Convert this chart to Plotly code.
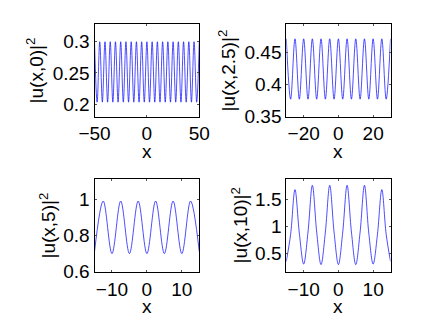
import plotly.graph_objects as go

# peaks and troughs; the curve is drawn through them as a spline
x_t0 = [-50, -47.5, -45, -42.5, -40, -37.5, -35, -32.5, -30, -27.5, -25, -22.5, -20, -17.5,
        -15, -12.5, -10, -7.5, -5, -2.5, 0, 2.5, 5, 7.5, 10, 12.5, 15, 17.5, 20, 22.5, 25,
        27.5, 30, 32.5, 35, 37.5, 40, 42.5, 45, 47.5, 50]
u_t0 = [0.300, 0.203, 0.300, 0.203, 0.300, 0.203, 0.300, 0.203, 0.300, 0.203, 0.300, 0.203,
        0.300, 0.203, 0.300, 0.203, 0.300, 0.203, 0.300, 0.203, 0.300, 0.203, 0.300, 0.203,
        0.300, 0.203, 0.300, 0.203, 0.300, 0.203, 0.300, 0.203, 0.300, 0.203, 0.300, 0.203,
        0.300, 0.203, 0.300, 0.203, 0.300]

x_t25 = [-30, -27.5, -25, -22.5, -20, -17.5, -15, -12.5, -10, -7.5, -5, -2.5, 0, 2.5, 5, 7.5,
         10, 12.5, 15, 17.5, 20, 22.5, 25, 27.5, 30]
u_t25 = [0.471, 0.377, 0.471, 0.377, 0.471, 0.377, 0.471, 0.377, 0.471, 0.377, 0.471, 0.377,
         0.471, 0.377, 0.471, 0.377, 0.471, 0.377, 0.471, 0.377, 0.471, 0.377, 0.471, 0.377,
         0.471]

x_t5 = [-15, -12.5, -10, -7.5, -5, -2.5, 0, 2.5, 5, 7.5, 10, 12.5, 15]
u_t5 = [0.71, 0.99, 0.70, 0.99, 0.70, 0.99, 0.70, 0.99, 0.70, 0.99, 0.70, 0.99, 0.71]

x_t10 = [-15, -13.75, -12.5, -11.25, -10, -8.75, -7.5, -6.25, -5, -3.75, -2.5, -1.25, 0,
         1.25, 2.5, 3.75, 5, 6.25, 7.5, 8.75, 10, 11.25, 12.5, 13.75, 15]
u_t10 = [0.36, 0.86, 1.68, 0.88, 0.31, 0.90, 1.76, 0.90, 0.30, 0.90, 1.76, 0.90, 0.30,
         0.90, 1.76, 0.90, 0.30, 0.90, 1.76, 0.88, 0.31, 0.86, 1.68, 0.86, 0.36]

W, H = 436, 327
FONT = "Liberation Sans, Arial, Helvetica, sans-serif"

panels = [
    # x data, y data, axis suffix, x px span, y px span, x range, y range, x ticks, y ticks, y title
    (x_t0, u_t0, "", (94.5, 199.3), (24.3, 116.5), [-50, 50], [0.18, 0.328],
     [-50, 0, 50], [0.2, 0.25, 0.3], ["0.2", "0.25", "0.3"], "|u(x,0)|<sup>2</sup>", 35),
    (x_t25, u_t25, "2", (286.3, 390.5), (24.3, 116.5), [-30, 30], [0.35, 0.4936],
     [-20, 0, 20], [0.35, 0.4, 0.45], ["0.35", "0.4", "0.45"], "|u(x,2.5)|<sup>2</sup>", 227),
    (x_t5, u_t5, "3", (94.5, 199.3), (179.3, 271.7), [-15, 15], [0.6, 1.11],
     [-10, 0, 10], [0.6, 0.8, 1.0], ["0.6", "0.8", "1"], "|u(x,5)|<sup>2</sup>", 47),
    (x_t10, u_t10, "4", (286.3, 390.5), (179.3, 271.7), [-15, 15], [0.17, 1.87],
     [-10, 0, 10], [0.5, 1.0, 1.5], ["0.5", "1", "1.5"], "|u(x,10)|<sup>2</sup>", 239),
]

fig = go.Figure()
layout = dict(
    width=W, height=H,
    margin=dict(l=0, r=0, t=0, b=0),
    paper_bgcolor="white", plot_bgcolor="white",
    showlegend=False,
    font=dict(family=FONT, size=19, color="black"),
)
annotations = []

for xs, ys, sfx, (x0, x1), (y0, y1), xr, yr, xt, yt, ytt, ytitle, ytx in panels:
    fig.add_trace(go.Scatter(
        x=xs, y=ys, mode="lines",
        line=dict(color="#0000ff", width=0.7, shape="spline", smoothing=1.0),
        xaxis="x" + sfx, yaxis="y" + sfx,
    ))
    axis_common = dict(
        showline=True, linecolor="black", linewidth=1, mirror="ticks",
        ticks="inside", ticklen=2, tickcolor="#555", showgrid=False, zeroline=False,
        automargin=False,
        tickfont=dict(family=FONT, size=19, color="black"),
    )
    layout["xaxis" + sfx] = dict(
        domain=[x0 / W, x1 / W], range=xr, anchor="y" + sfx,
        tickvals=xt, **axis_common,
    )
    layout["yaxis" + sfx] = dict(
        domain=[1 - y1 / H, 1 - y0 / H], range=yr, anchor="x" + sfx,
        tickvals=yt, ticktext=ytt, **axis_common,
    )
    annotations.append(dict(
        text=ytitle, textangle=-90, x=ytx / W, y=1 - (y0 + y1) / 2 / H,
        xref="paper", yref="paper", xanchor="center", yanchor="middle",
        showarrow=False, font=dict(family=FONT, size=19, color="black"),
    ))
    annotations.append(dict(
        text="x", x=(x0 + x1) / 2 / W, y=1 - (y1 + 35) / H,
        xref="paper", yref="paper", xanchor="center", yanchor="middle",
        showarrow=False, font=dict(family=FONT, size=19, color="black"),
    ))

layout["annotations"] = annotations
fig.update_layout(**layout)

# the page body has a default 8px margin; drop it so the figure sits at the window corner
fig.write_html("out.html", config={"displayModeBar": False},
               post_script="document.body.style.margin='0';")
